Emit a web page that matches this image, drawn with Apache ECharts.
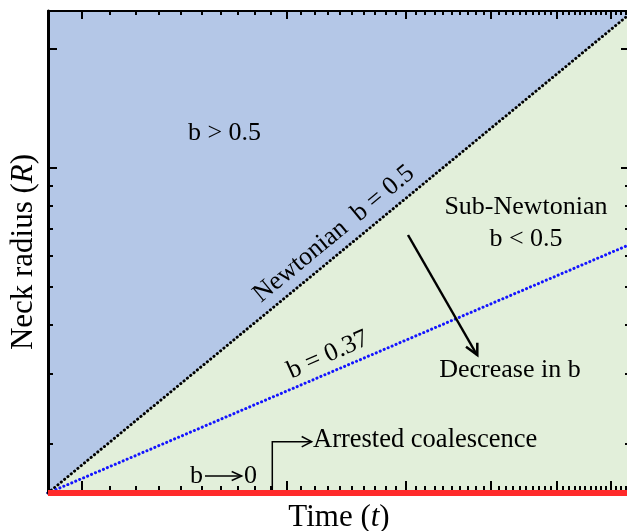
<!DOCTYPE html>
<html><head><meta charset="utf-8">
<script src="https://cdn.jsdelivr.net/npm/echarts@6/dist/echarts.min.js"></script>
<style>html,body{margin:0;padding:0;background:#fff}#c{width:627px;height:531px}</style>
</head><body><div id="c"></div>
<script>
// ---- data ----
const timeRange = [8.93, 64];
const radiusRange = [1.5, 25];
const newtonianT = [8.93, 64];
const newtonianR = [1.5, 24.6];
const subNewtonianT = [8.93, 64];
const subNewtonianR = [1.5, 6.4];
const arrestedT = [8.93, 64];
const arrestedR = [1.5, 1.5];
const xMajorTicks = [10, 20, 30, 40, 50, 60];
const xMinorTicks = [11, 12, 13, 14, 15, 16, 17, 18, 19, 21, 22, 23, 24, 25, 26, 27, 28, 29,
  31, 32, 33, 34, 35, 36, 37, 38, 39, 41, 42, 43, 44, 45, 46, 47, 48, 49,
  51, 52, 53, 54, 55, 56, 57, 58, 59, 61, 62, 63];
const yMajorTicks = [10, 20];
const yMinorTicks = [2, 3, 4, 5, 6, 7, 8, 9];

const FONT = '"Liberation Serif", "Times New Roman", serif';
const pairs = (a, b) => a.map((v, i) => [v, b[i]]);

function xAx(pos, ticks, len, lineShow, extra) {
  return Object.assign({
    type: 'log', logBase: 10, position: pos, min: timeRange[0], max: timeRange[1], z: 5,
    axisLine: { show: lineShow, onZero: false, lineStyle: { color: '#000', width: 2 } },
    axisTick: { show: true, inside: true, length: len, customValues: ticks, lineStyle: { color: '#000', width: 2 } },
    axisLabel: { show: false }, splitLine: { show: false }
  }, extra || {});
}
function yAx(pos, ticks, len, lineShow, extra) {
  return Object.assign({
    type: 'log', logBase: 10, position: pos, min: radiusRange[0], max: radiusRange[1], z: 5,
    axisLine: { show: lineShow, onZero: false, lineStyle: { color: '#000', width: 3 } },
    axisTick: { show: true, inside: true, length: len, customValues: ticks, lineStyle: { color: '#000', width: 2 } },
    axisLabel: { show: false }, splitLine: { show: false }
  }, extra || {});
}

const chart = echarts.init(document.getElementById('c'), null, { renderer: 'canvas' });
const txt = (x, y, text, extra) => Object.assign({
  type: 'text', x, y, z: 100,
  style: Object.assign({ text, fontFamily: FONT, fontSize: 26, fill: '#000', align: 'center', verticalAlign: 'middle' }, (extra && extra.style) || {})
}, extra && extra.rotation !== undefined ? { rotation: extra.rotation } : {});

chart.setOption({
  animation: false,
  grid: { left: 48, top: 11, right: -3, bottom: 38, show: true, backgroundColor: '#b4c7e7', borderWidth: 0, outerBoundsMode: 'none', containLabel: false },
  xAxis: [
    xAx('bottom', xMajorTicks, 12, false, {
      name: 'Time ({i|t})', nameLocation: 'middle', nameGap: 9,
      nameTextStyle: { fontFamily: FONT, fontSize: 31, color: '#000', rich: { i: { fontFamily: FONT, fontSize: 31, fontStyle: 'italic', color: '#000' } } }
    }),
    xAx('bottom', xMinorTicks, 7, false),
    xAx('top', xMajorTicks, 8, true),
    xAx('top', xMinorTicks, 4, false)
  ],
  yAxis: [
    yAx('left', yMajorTicks, 9, true, {
      name: 'Neck radius ({i|R})', nameLocation: 'middle', nameGap: 9,
      nameTextStyle: { fontFamily: FONT, fontSize: 31, color: '#000', rich: { i: { fontFamily: FONT, fontSize: 31, fontStyle: 'italic', color: '#000' } } }
    }),
    yAx('left', yMinorTicks, 5, false),
    yAx('right', yMajorTicks, 9, false),
    yAx('right', yMinorTicks, 5, false)
  ],
  series: [
    {
      name: 'Newtonian', type: 'line', xAxisIndex: 0, yAxisIndex: 0, symbol: 'none', z: 2,
      data: pairs(newtonianT, newtonianR),
      lineStyle: { color: '#000', width: 3, type: [0.1, 4.2], cap: 'round' },
      areaStyle: { color: '#e2efda', opacity: 1, origin: 'start' }
    },
    {
      name: 'b = 0.37', type: 'line', xAxisIndex: 0, yAxisIndex: 0, symbol: 'none', z: 3,
      data: pairs(subNewtonianT, subNewtonianR),
      lineStyle: { color: '#1414ff', width: 3, type: [0.1, 4.2], cap: 'round' }
    },
    {
      name: 'Arrested', type: 'line', xAxisIndex: 0, yAxisIndex: 0, symbol: 'none', z: 6, clip: false,
      data: pairs(arrestedT, arrestedR),
      lineStyle: { color: '#ff2a2a', width: 6 }
    }
  ],
  graphic: [
    txt(224.5, 133, 'b > 0.5'),
    txt(334, 234, 'Newtonian  b = 0.5', { rotation: 39.5 * Math.PI / 180 }),
    txt(526, 207.5, 'Sub-Newtonian'),
    txt(526, 239.5, 'b < 0.5'),
    txt(510, 370.5, 'Decrease in b'),
    txt(328, 355, 'b = 0.37', { rotation: 24 * Math.PI / 180 }),
    txt(313, 440, 'Arrested coalescence', { style: { align: 'left', fontSize: 26.5 } }),
    txt(190, 476.5, 'b', { style: { align: 'left' } }),
    txt(244, 476.5, '0', { style: { align: 'left' } }),
    { type: 'line', z: 100, shape: { x1: 408, y1: 235, x2: 477, y2: 355 }, style: { stroke: '#000', lineWidth: 2.5 } },
    { type: 'polyline', z: 100, shape: { points: [[466, 346.7], [477.3, 355], [477.3, 342.7]] }, style: { stroke: '#000', lineWidth: 2.5, fill: null } },
    { type: 'polyline', z: 100, shape: { points: [[272.3, 490], [272.3, 441.7], [311.5, 441.7]] }, style: { stroke: '#000', lineWidth: 1.5, fill: null } },
    { type: 'polyline', z: 100, shape: { points: [[301.7, 436.5], [311.7, 441.7], [301.7, 446.9]] }, style: { stroke: '#000', lineWidth: 1.5, fill: null } },
    { type: 'line', z: 100, shape: { x1: 205, y1: 476, x2: 241.5, y2: 476 }, style: { stroke: '#000', lineWidth: 1.5 } },
    { type: 'polyline', z: 100, shape: { points: [[231.7, 471.5], [241.7, 476], [231.7, 480.5]] }, style: { stroke: '#000', lineWidth: 1.5, fill: null } }
  ]
});
</script>
</body></html>
